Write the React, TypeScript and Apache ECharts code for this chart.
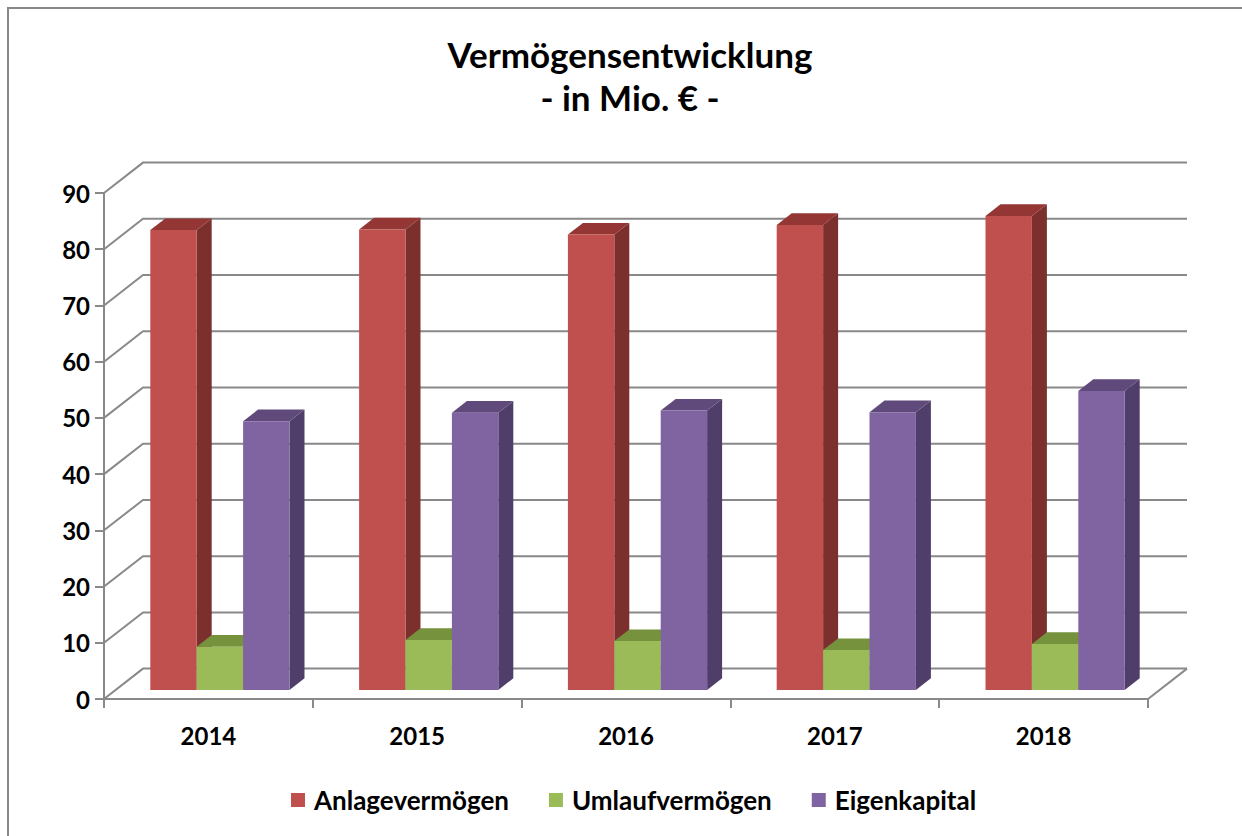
import React, { useEffect, useRef } from "react";
import * as echarts from "echarts";

const categories = ["2014", "2015", "2016", "2017", "2018"];
const anlagevermoegen = [81.8, 81.9, 81.0, 82.7, 84.3];
const umlaufvermoegen = [7.7, 8.9, 8.7, 7.1, 8.2];
const eigenkapital = [47.8, 49.3, 49.7, 49.4, 53.2];
const yTicks = [0, 10, 20, 30, 40, 50, 60, 70, 80, 90];

const seriesDefs = [
  { name: "Anlagevermögen", data: anlagevermoegen, front: "#C0504D", top: "#943634", side: "#7B302E", k: -1.5 },
  { name: "Umlaufvermögen", data: umlaufvermoegen, front: "#9BBB59", top: "#76923C", side: "#6F8A38", k: -0.5 },
  { name: "Eigenkapital", data: eigenkapital, front: "#8064A2", top: "#5F4A7B", side: "#4F3E69", k: 0.5 },
];

// depth geometry (pixels)
const WALL_DX = 39;
const WALL_DY = -30.4;
const BAR_DX = 11.5;
const BAR_DY = -9;
const BAR_DDX = 15;
const BAR_DDY = -11.7;
const LINE = "#898989";
const FONT = "Lato";

export default function App() {
  const ref = useRef<HTMLDivElement>(null);
  useEffect(() => {
    if (!ref.current) return;
    const chart = echarts.init(ref.current, null, { renderer: "svg" });

    const wallSeries: any = {
      type: "custom",
      name: "wall",
      silent: true,
      z: 1,
      data: yTicks.map((v) => [0, v]),
      renderItem: (params: any, api: any) => {
        const cs = params.coordSys;
        const v = api.value(1);
        const y = api.coord([0, v])[1];
        const x0 = cs.x;
        const x1 = cs.x + cs.width;
        const children: any[] = [
          {
            type: "polyline",
            shape: {
              points: [
                [x0, y],
                [x0 + WALL_DX, y + WALL_DY],
                [x1 + WALL_DX, y + WALL_DY],
              ],
            },
            style: { stroke: LINE, lineWidth: 2, fill: "none" },
          },
        ];
        if (v === 0) {
          children.push({
            type: "line",
            shape: { x1: x1, y1: y, x2: x1 + WALL_DX, y2: y + WALL_DY },
            style: { stroke: LINE, lineWidth: 2 },
          });
        }
        return { type: "group", children };
      },
    };

    const barSeries = seriesDefs.map((s, si) => ({
      type: "custom",
      name: s.name,
      z: 2 + si,
      itemStyle: { color: s.front },
      data: s.data.map((v, i) => [i, v]),
      renderItem: (params: any, api: any) => {
        const cat = api.value(0);
        const v = api.value(1);
        const [cx, y0] = api.coord([cat, 0]);
        const yv = api.coord([cat, v])[1];
        const cw = api.size([1, 0])[0];
        const bw = cw / 4.5;
        const left = cx + s.k * bw + BAR_DX;
        const right = left + bw;
        const bottom = y0 + BAR_DY;
        const top = yv + BAR_DY;
        return {
          type: "group",
          children: [
            {
              type: "polygon",
              shape: {
                points: [
                  [right, top],
                  [right + BAR_DDX, top + BAR_DDY],
                  [right + BAR_DDX, bottom + BAR_DDY],
                  [right, bottom],
                ],
              },
              style: { fill: s.side },
            },
            {
              type: "polygon",
              shape: {
                points: [
                  [left, top],
                  [left + BAR_DDX, top + BAR_DDY],
                  [right + BAR_DDX, top + BAR_DDY],
                  [right, top],
                ],
              },
              style: { fill: s.top },
            },
            {
              type: "rect",
              shape: { x: left, y: top, width: bw, height: bottom - top },
              style: { fill: s.front },
            },
          ],
        };
      },
    }));

    chart.setOption({
      animation: false,
      backgroundColor: "#ffffff",
      title: {
        text: "Vermögensentwicklung\n- in Mio. € -",
        left: 625,
        textAlign: "center",
        top: 27,
        textStyle: {
          fontFamily: FONT,
          fontWeight: "bold",
          fontSize: 35,
          lineHeight: 43,
          color: "#000",
        },
      },
      legend: {
        left: 286,
        top: 782,
        itemWidth: 14,
        itemHeight: 14,
        itemGap: 40,
        icon: "rect",
        textStyle: { fontFamily: FONT, fontWeight: "bold", fontSize: 26, color: "#000", padding: [0, 0, 0, 4] },
        data: seriesDefs.map((s) => ({ name: s.name, itemStyle: { color: s.front } })),
      },
      grid: { left: 104, top: 193, width: 1044, height: 506 },
      xAxis: {
        type: "category",
        data: categories,
        boundaryGap: true,
        axisLine: { show: true, lineStyle: { color: LINE, width: 2 } },
        axisTick: { show: true, length: 9, alignWithLabel: false, lineStyle: { color: LINE, width: 2 } },
        axisLabel: { fontFamily: FONT, fontWeight: "bold", fontSize: 24, color: "#000", margin: 24 },
        splitLine: { show: false },
      },
      yAxis: {
        type: "value",
        min: 0,
        max: 90,
        interval: 10,
        axisLine: { show: true, lineStyle: { color: LINE, width: 2 } },
        axisTick: { show: true, length: 9, lineStyle: { color: LINE, width: 2 } },
        axisLabel: { fontFamily: FONT, fontWeight: "bold", fontSize: 24, color: "#000", margin: 14 },
        splitLine: { show: false },
      },
      graphic: [
        {
          type: "rect",
          silent: true,
          shape: { x: 8, y: 8, width: 1300, height: 900 },
          style: { fill: "none", stroke: "#888888", lineWidth: 2 },
          z: -10,
        },
      ],
      series: [wallSeries, ...barSeries],
    });
    return () => chart.dispose();
  }, []);
  return (
    <div
      ref={ref}
      style={{ position: "absolute", left: 0, top: 0, width: 1242, height: 836 }}
    />
  );
}
